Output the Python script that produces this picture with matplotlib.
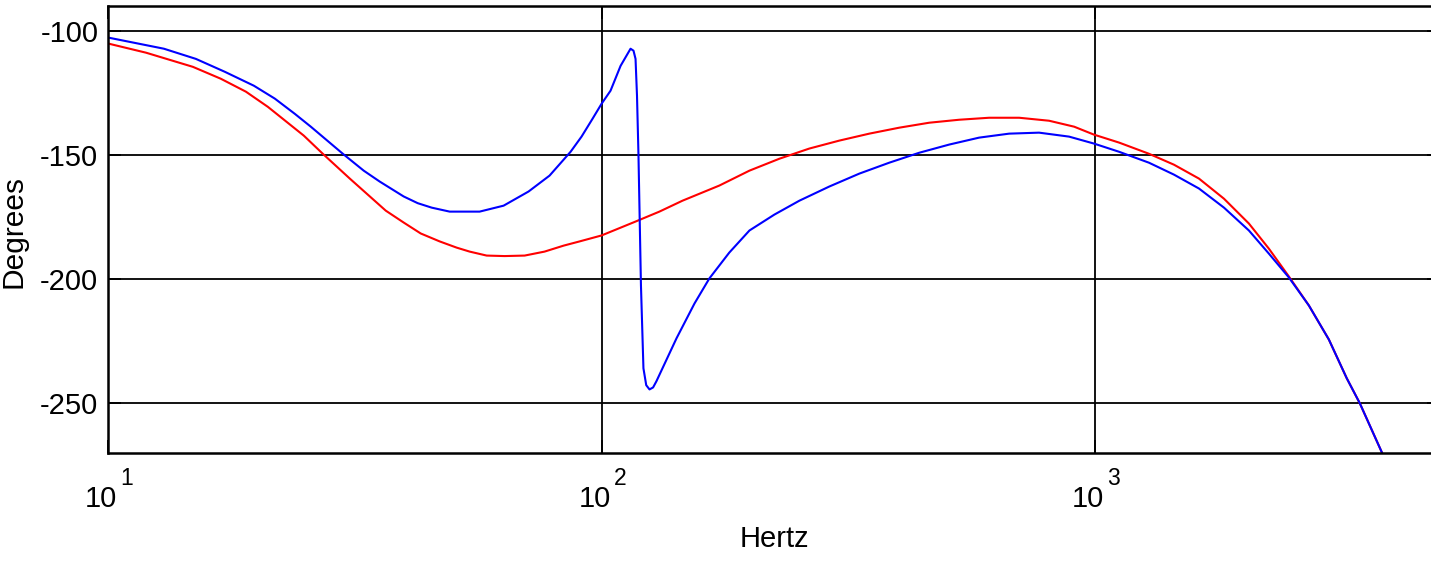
import matplotlib
matplotlib.use("Agg")
import matplotlib.pyplot as plt

plt.rcParams['font.family'] = ['Liberation Sans', 'DejaVu Sans']

# red trace (Hz, degrees)
red_f = [10, 11.94, 14.86, 16.93, 19.03, 21.08, 24.93, 27.24, 30.90, 36.54,
         39.73, 43.02, 47.0, 50.87, 54.05, 58.51, 63.63, 69.86, 76.66, 83.78,
         90.26, 100, 117.2, 131.0, 145.9, 173.3, 199.4, 229.3, 263.7, 303.3,
         348.8, 401.1, 461.3, 530.6, 610.1, 701.9, 807.0, 907.2, 995, 1118.6,
         1286, 1445, 1624, 1825, 2050, 2250, 2470, 2712, 2977, 3236,
         3440, 3811]
red_deg = [-105.1, -108.8, -114.5, -119.3, -124.5, -130.6, -142.2, -149.5, -159.5, -172.4,
           -177.2, -181.6, -184.8, -187.3, -188.9, -190.5, -190.7, -190.5, -188.9, -186.5,
           -184.8, -182.4, -176.8, -172.8, -168.4, -162.3, -156.3, -151.5, -147.4, -144.2,
           -141.4, -139.0, -137.0, -135.8, -135.0, -135.0, -136.2, -138.6, -141.8, -145.0,
           -149.5, -153.9, -159.5, -167.6, -177.6, -187.7, -198.9, -210.6, -224.3, -239.9,
           -250.0, -269.7]

# blue trace (Hz, degrees)
blue_f = [10, 12.98, 15.07, 17.25, 19.75, 21.78, 23.90, 25.76, 29.91, 32.97,
          35.53, 39.73, 42.42, 45.28, 49.24, 56.62, 63.33, 71.15, 78.47, 86.56,
          91.1, 95.9, 100, 104.3, 109.3, 114.5, 116.1, 117.2, 118.0, 118.8,
          120.2, 121.6, 123.2, 125.1, 127.2, 129.2, 141.9, 154.3, 165.4, 181.5,
          199.4, 224.0, 251.7, 289.4, 332.9, 382.8, 440.2, 506.4, 582.4, 669.8,
          770.1, 886, 995, 1118.6, 1286, 1445, 1624, 1825, 2050, 2250,
          2470, 2712, 2977, 3236, 3440, 3811]
blue_deg = [-102.7, -107.2, -111.3, -116.5, -122.1, -127.3, -133.4, -138.6, -149.5, -156.3,
            -160.7, -166.7, -169.4, -171.2, -172.8, -172.8, -170.4, -164.7, -158.3, -148.7,
            -142.6, -135.4, -129.4, -124.1, -114.1, -107.2, -108.0, -111.3, -126.1, -149.5,
            -202.5, -235.9, -242.7, -244.4, -243.6, -241.1, -223.8, -209.8, -199.7, -189.3,
            -180.4, -174.0, -168.4, -162.7, -157.5, -153.1, -149.1, -145.8, -143.0, -141.4,
            -141.0, -142.6, -145.4, -148.7, -153.1, -157.9, -163.5, -171.2, -180.4, -189.7,
            -199.3, -210.6, -224.3, -239.9, -250.0, -269.7]

x_ticks = [10, 100, 1000]
x_exps = ['1', '2', '3']
y_ticks = [-250, -200, -150, -100]

W, H = 1431, 563
fig = plt.figure(figsize=(W / 100, H / 100), dpi=100)
ax = fig.add_axes([108 / W, 1 - 453 / H, 1332 / W, 447 / H])

ax.semilogx(red_f, red_deg, color='#ff0000', linewidth=1.5)
ax.semilogx(blue_f, blue_deg, color='#0000ff', linewidth=1.5)

ax.set_xlim(10, 5000)
ax.set_ylim(-270, -90)

ax.set_yticks(y_ticks)
ax.set_yticklabels([str(v) for v in y_ticks])
ax.set_xticks(x_ticks)
ax.set_xticklabels(['' for _ in x_ticks])
ax.minorticks_off()
ax.tick_params(direction='in', length=9.5, width=1.3, colors='black',
               top=True, right=True, labelsize=21, pad=7)

ax.grid(True, which='major', color='black', linewidth=1.3, linestyle='-')
for s in ax.spines.values():
    s.set_linewidth(1.8)
    s.set_color('black')

# MATLAB style 10^n tick labels
for t, e in zip(x_ticks, x_exps):
    ax.annotate('10', xy=(t, 0), xycoords=('data', 'axes fraction'),
                xytext=(6.5, -38.9), textcoords='offset points',
                ha='right', va='baseline', fontsize=21, annotation_clip=False)
    ax.annotate(e, xy=(t, 0), xycoords=('data', 'axes fraction'),
                xytext=(9.0, -23), textcoords='offset points',
                ha='left', va='baseline', fontsize=16.5, annotation_clip=False)

fig.text(14 / W, 1 - 231 / H, 'Degrees', rotation=90, ha='center', va='center', fontsize=21.5)
fig.text(774 / W, 1 - 547 / H, 'Hertz', ha='center', va='baseline', fontsize=21)

fig.savefig('out.png', dpi=100)
